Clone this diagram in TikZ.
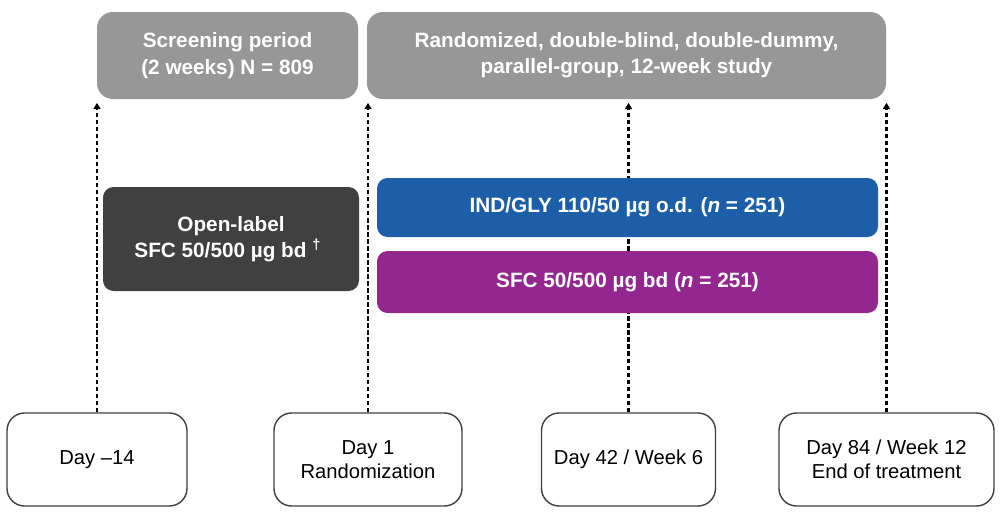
\documentclass[tikz,border=0pt]{standalone}
\usepackage{fontspec}
\setmainfont{Liberation Sans}
\usetikzlibrary{arrows.meta,backgrounds}
\definecolor{TG}{HTML}{979797}
\definecolor{DK}{HTML}{404040}
\definecolor{IB}{HTML}{1C5FA8}
\definecolor{SP}{HTML}{93278F}

\begin{document}
\begin{tikzpicture}[
    topbox/.style={fill=TG, rounded corners=9pt, inner sep=0pt,
      align=center, text=white, minimum height=1.74cm,
      font=\fontsize{11.8}{15}\selectfont\bfseries},
    armbox/.style={rounded corners=6pt, inner sep=0pt, align=center,
      text=white, minimum width=10.02cm,
      font=\fontsize{11.8}{15}\selectfont\bfseries},
    daybox/.style={draw=DK, line width=0.8pt, fill=white,
      rounded corners=10pt, inner sep=0pt, align=center,
      minimum height=1.86cm, font=\fontsize{11.5}{13.5}\selectfont},
    visit/.style={draw=black, line width=1.2pt,
      dash pattern=on 2.6pt off 1.4pt,
      -{Triangle[length=3.5pt,width=4pt]}, shorten >=2pt}
  ]
  \useasboundingbox (0,0) rectangle (20.02,-10.36);

    %% ── study periods ────────────────────────────────
    \node[topbox, minimum width=5.22cm] (screen) at (4.55,-1.11)
      {Screening period\\(2 weeks) N = 809};
    \node[topbox, minimum width=10.38cm] (rand) at (12.53,-1.11)
      {Randomized, double-blind, double-dummy,\\parallel-group, 12-week study};

    %% ── treatments ───────────────────────────────────
    \node[armbox, fill=DK, minimum width=5.12cm, minimum height=2.08cm]
      (openlbl) at (4.62,-4.78)
      {Open-label\\SFC 50/500 µg bd\ \textsuperscript{†}\hspace*{0.3em}};
    \node[armbox, fill=IB, minimum height=1.18cm] (indgly) at (12.55,-4.15)
      {IND/GLY 110/50 µg o.d. (\textit{n} = 251)};
    \node[armbox, fill=SP, minimum height=1.24cm] (sfc) at (12.55,-5.64)
      {SFC 50/500 µg bd (\textit{n} = 251)};

    %% ── visits ───────────────────────────────────────
    \node[daybox, minimum width=3.6cm] (day14) at (1.94,-9.19) {Day –14};
    \node[daybox, minimum width=3.76cm] (day1) at (7.36,-9.19)
      {Day 1\\Randomization};
    \node[daybox, minimum width=3.48cm] (day42) at (12.57,-9.19)
      {Day 42 / Week 6};
    \node[daybox, minimum width=4.3cm] (day84) at (17.73,-9.19)
      {Day 84 / Week 12\\End of treatment};

    %% dashed lines run behind the arm boxes
    \begin{scope}[on background layer]
      \draw[visit] (day14.north) -- (day14.north |- screen.south);
      \draw[visit] (day1.north) -- (day1.north |- rand.south);
      \draw[visit] (day42.north) -- (day42.north |- rand.south);
      \draw[visit] (day84.north) -- (day84.north |- rand.south);
    \end{scope}

\end{tikzpicture}
\end{document}
